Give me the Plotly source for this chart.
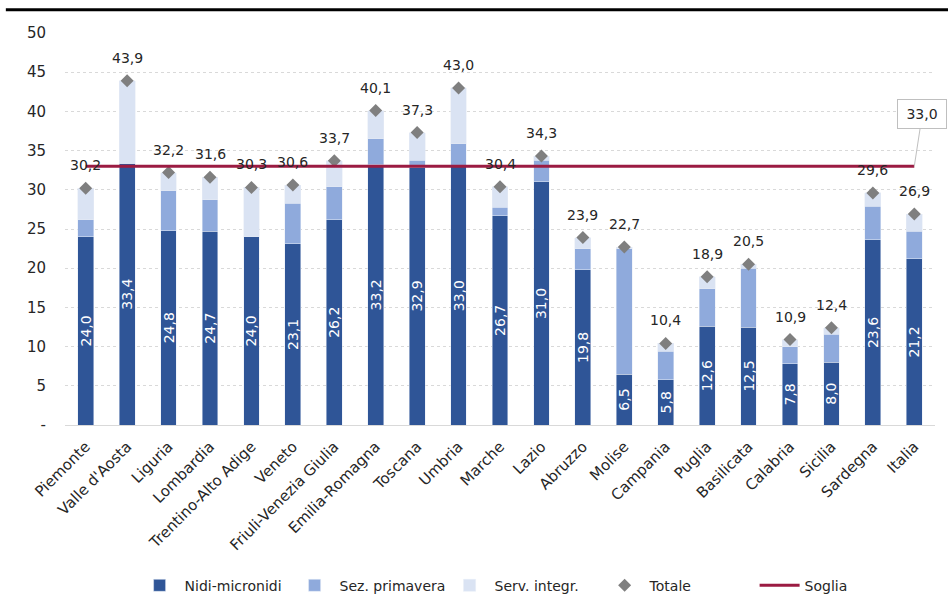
import plotly.graph_objects as go

regioni = ["Piemonte", "Valle d'Aosta", "Liguria", "Lombardia", "Trentino-Alto Adige", "Veneto",
           "Friuli-Venezia Giulia", "Emilia-Romagna", "Toscana", "Umbria", "Marche", "Lazio",
           "Abruzzo", "Molise", "Campania", "Puglia", "Basilicata", "Calabria", "Sicilia",
           "Sardegna", "Italia"]
nidi = [24.0, 33.4, 24.8, 24.7, 24.0, 23.1, 26.2, 33.2, 32.9, 33.0, 26.7, 31.0,
        19.8, 6.5, 5.8, 12.6, 12.5, 7.8, 8.0, 23.6, 21.2]
primavera = [2.2, 0.0, 5.1, 4.0, 0.0, 5.2, 4.2, 3.3, 0.9, 2.9, 1.1, 2.8,
             2.7, 16.0, 3.6, 4.8, 7.5, 2.2, 3.6, 4.3, 3.5]
totale = [30.2, 43.9, 32.2, 31.6, 30.3, 30.6, 33.7, 40.1, 37.3, 43.0, 30.4, 34.3,
          23.9, 22.7, 10.4, 18.9, 20.5, 10.9, 12.4, 29.6, 26.9]
integr = [round(t - n - p, 1) for t, n, p in zip(totale, nidi, primavera)]
soglia = [33.0] * len(regioni)
ytick_vals = [0, 5, 10, 15, 20, 25, 30, 35, 40, 45, 50]
ytick_text = ["-", "5", "10", "15", "20", "25", "30", "35", "40", "45", "50"]

FONT = "DejaVu Sans"
TXT = "#262626"


def fmt(v):
    return f"{v:.1f}".replace(".", ",")


fig = go.Figure()
fig.add_trace(go.Bar(x=regioni, y=nidi, name="Nidi-micronidi", marker_color="#2F5597",
                     text=[fmt(v) for v in nidi], textposition="inside",
                     insidetextanchor="middle", textangle=-90,
                     textfont=dict(color="white", size=14, family=FONT)))
fig.add_trace(go.Bar(x=regioni, y=primavera, name="Sez. primavera", marker_color="#8FAADC"))
fig.add_trace(go.Bar(x=regioni, y=integr, name="Serv. integr.", marker_color="#DAE3F3"))
fig.add_trace(go.Scatter(x=regioni, y=totale, name="Totale", mode="markers",
                         marker=dict(symbol="diamond", size=10, color="#7F7F7F")))
fig.add_trace(go.Scatter(x=regioni, y=soglia, name="Soglia", mode="lines",
                         line=dict(color="#9B1B42", width=3)))

for r, t in zip(regioni, totale):
    fig.add_annotation(x=r, y=t, text=fmt(t), showarrow=False, yshift=23,
                       font=dict(size=14, color=TXT, family=FONT))

fig.add_annotation(x=regioni[-1], y=soglia[-1], text=fmt(soglia[-1]), showarrow=True, arrowhead=0,
                   arrowcolor="#BFBFBF", arrowwidth=1, ax=8, ay=-52,
                   width=40, height=20,
                   bordercolor="#BFBFBF", borderwidth=1, borderpad=4, bgcolor="white",
                   font=dict(size=14, color=TXT, family=FONT))
fig.add_shape(type="line", xref="paper", yref="paper", x0=-0.068, x1=1.016, y0=1.059, y1=1.059,
              line=dict(color="black", width=3))

fig.update_layout(
    barmode="stack", bargap=0.62, width=948, height=606,
    margin=dict(l=65, r=13, t=33, b=181, autoexpand=False),
    plot_bgcolor="white", paper_bgcolor="white",
    font=dict(family=FONT, size=14, color=TXT),
    separators=",.",
    uniformtext=dict(minsize=14, mode="show"),
    legend=dict(orientation="h", x=0.08, xanchor="left", y=-0.41, yanchor="middle",
                font=dict(size=14), traceorder="normal", itemwidth=40, entrywidth=100),
    showlegend=True,
)
fig.update_yaxes(range=[0, 50], tickvals=ytick_vals, ticktext=ytick_text, automargin=False,
                 showgrid=True, gridcolor="#D9D9D9", gridwidth=1, griddash="dot",
                 zeroline=False, tickfont=dict(size=15, color=TXT), ticklabelstandoff=18)
fig.update_xaxes(tickangle=-45, showline=True, linecolor="#D9D9D9", automargin=False,
                 range=[-0.5, len(regioni) - 0.5], ticklabelstandoff=6,
                 tickfont=dict(size=15, color=TXT))

fig.write_html("out.html", config={"displayModeBar": False},
               post_script="document.body.style.margin='0';")
